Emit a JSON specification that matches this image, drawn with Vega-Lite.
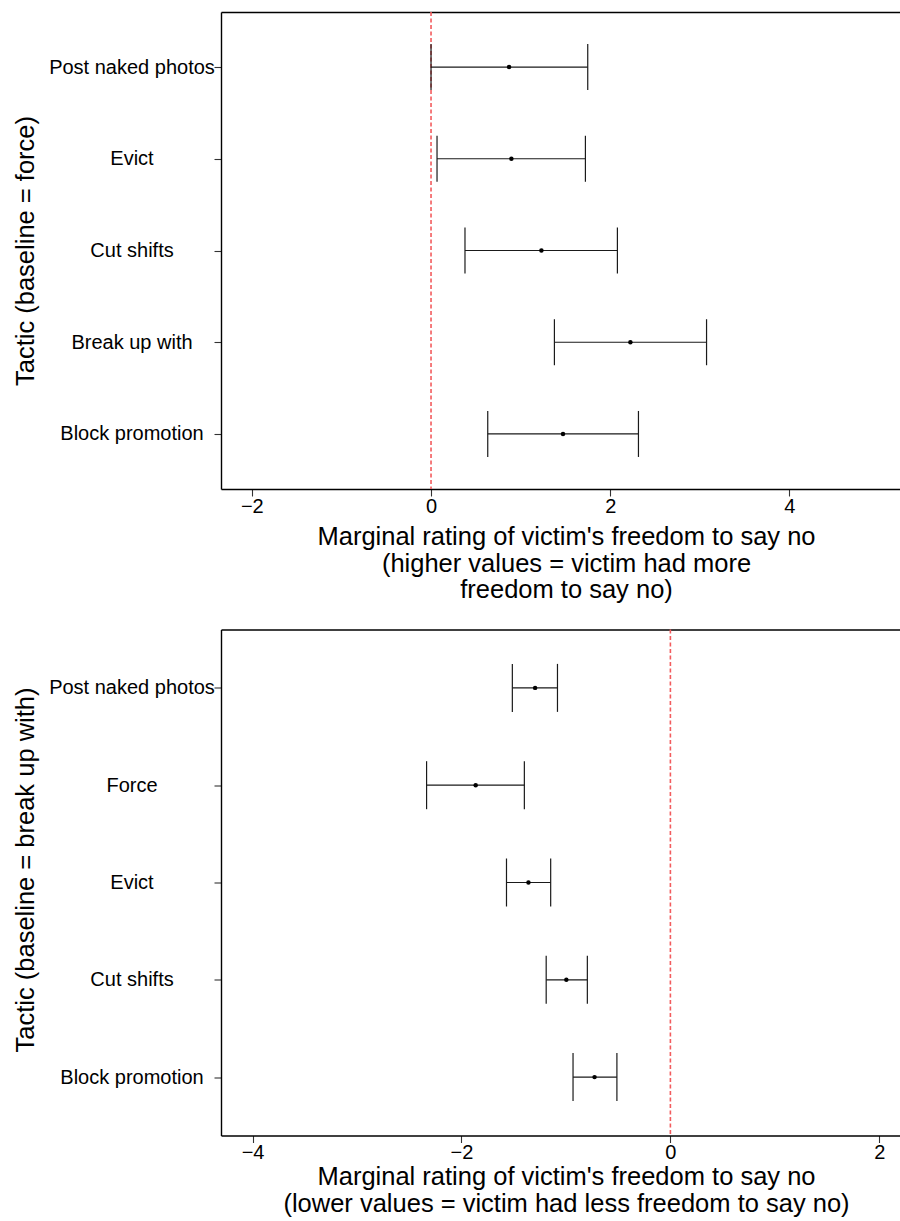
{
  "$schema": "https://vega.github.io/schema/vega-lite/v6.json",
  "padding": {"left": 13, "top": 11, "right": 0, "bottom": 0},
  "background": "white",
  "config": {
    "font": "Liberation Sans",
    "view": {"stroke": null},
    "concat": {"spacing": 24.5},
    "axis": {
      "grid": false,
      "domainColor": "#000000",
      "domainWidth": 1.4,
      "tickColor": "#333333",
      "tickWidth": 1.1,
      "tickSize": 7,
      "labelColor": "#000000",
      "labelFont": "Liberation Sans",
      "labelFontSize": 20,
      "titleFont": "Liberation Sans",
      "titleFontSize": 25.5,
      "titleFontWeight": "normal",
      "titleColor": "#000000"
    }
  },
  "datasets": {
    "force": [
      {"tactic": "Post naked photos", "lower": 0.0, "estimate": 0.871, "upper": 1.749},
      {"tactic": "Evict", "lower": 0.067, "estimate": 0.897, "upper": 1.723},
      {"tactic": "Cut shifts", "lower": 0.379, "estimate": 1.232, "upper": 2.08},
      {"tactic": "Break up with", "lower": 1.377, "estimate": 2.225, "upper": 3.075},
      {"tactic": "Block promotion", "lower": 0.633, "estimate": 1.473, "upper": 2.315}
    ],
    "breakup": [
      {"tactic": "Post naked photos", "lower": -1.513, "estimate": -1.295, "upper": -1.081},
      {"tactic": "Force", "lower": -2.334, "estimate": -1.864, "upper": -1.398},
      {"tactic": "Evict", "lower": -1.569, "estimate": -1.359, "upper": -1.146},
      {"tactic": "Cut shifts", "lower": -1.189, "estimate": -0.996, "upper": -0.795},
      {"tactic": "Block promotion", "lower": -0.932, "estimate": -0.726, "upper": -0.512}
    ],
    "zero": [{"ref": 0}]
  },
  "vconcat": [
    {
      "width": 679,
      "height": 477,
      "data": {"name": "force"},
      "resolve": {"axis": {"x": "independent"}},
      "layer": [
        {
          "data": {"name": "zero"},
          "mark": {"type": "rule", "color": "#f25c5e", "strokeDash": [4, 2.5], "strokeWidth": 1.6},
          "encoding": {
            "x": {"field": "ref", "type": "quantitative", "scale": {"domain": [-2.344, 5.234], "nice": false, "zero": false},
              "axis": {"values": [-2, 0, 2, 4], "labelPadding": 0, "titlePadding": 8.6, "titleLineHeight": 26.7, "titleX": 345,
                "title": ["Marginal rating of victim's freedom to say no", "(higher values = victim had more", "freedom to say no)"]}}
          }
        },
        {
          "mark": {"type": "rule", "color": "#1a1a1a", "strokeWidth": 1.2},
          "encoding": {
            "y": {"field": "tactic", "type": "nominal", "sort": ["Post naked photos", "Evict", "Cut shifts", "Break up with", "Block promotion"],
              "scale": {"type": "point", "padding": 0.6},
              "axis": {"title": "Tactic (baseline = force)", "labelAlign": "center", "labelBaseline": "middle", "labelPadding": 82.5, "titlePadding": 10}},
            "x": {"field": "lower", "type": "quantitative", "scale": {"domain": [-2.344, 5.234], "nice": false, "zero": false}, "axis": null},
            "x2": {"field": "upper"}
          }
        },
        {
          "mark": {"type": "tick", "orient": "vertical", "size": 46, "thickness": 1.2, "color": "#1a1a1a", "opacity": 1},
          "encoding": {
            "y": {"field": "tactic", "type": "nominal", "sort": ["Post naked photos", "Evict", "Cut shifts", "Break up with", "Block promotion"]},
            "x": {"field": "lower", "type": "quantitative", "scale": {"domain": [-2.344, 5.234], "nice": false, "zero": false}, "axis": null}
          }
        },
        {
          "mark": {"type": "tick", "orient": "vertical", "size": 46, "thickness": 1.2, "color": "#1a1a1a", "opacity": 1},
          "encoding": {
            "y": {"field": "tactic", "type": "nominal", "sort": ["Post naked photos", "Evict", "Cut shifts", "Break up with", "Block promotion"]},
            "x": {"field": "upper", "type": "quantitative", "scale": {"domain": [-2.344, 5.234], "nice": false, "zero": false}, "axis": null}
          }
        },
        {
          "mark": {"type": "circle", "size": 20, "color": "#000000", "opacity": 1},
          "encoding": {
            "y": {"field": "tactic", "type": "nominal", "sort": ["Post naked photos", "Evict", "Cut shifts", "Break up with", "Block promotion"]},
            "x": {"field": "estimate", "type": "quantitative", "scale": {"domain": [-2.344, 5.234], "nice": false, "zero": false},
              "axis": {"orient": "top", "labels": false, "ticks": false, "title": null, "domain": true}}
          }
        }
      ]
    },
    {
      "width": 679,
      "height": 506,
      "data": {"name": "breakup"},
      "resolve": {"axis": {"x": "independent"}},
      "layer": [
        {
          "data": {"name": "zero"},
          "mark": {"type": "rule", "color": "#f25c5e", "strokeDash": [4, 2.5], "strokeWidth": 1.6},
          "encoding": {
            "x": {"field": "ref", "type": "quantitative", "scale": {"domain": [-4.302, 2.198], "nice": false, "zero": false},
              "axis": {"values": [-4, -2, 0, 2], "labelPadding": 0, "titlePadding": 1.5, "titleLineHeight": 27, "titleX": 345,
                "title": ["Marginal rating of victim's freedom to say no", "(lower values = victim had less freedom to say no)"]}}
          }
        },
        {
          "mark": {"type": "rule", "color": "#1a1a1a", "strokeWidth": 1.2},
          "encoding": {
            "y": {"field": "tactic", "type": "nominal", "sort": ["Post naked photos", "Force", "Evict", "Cut shifts", "Block promotion"],
              "scale": {"type": "point", "padding": 0.6},
              "axis": {"title": "Tactic (baseline = break up with)", "labelAlign": "center", "labelBaseline": "middle", "labelPadding": 82.5, "titlePadding": 10, "titleY": 240}},
            "x": {"field": "lower", "type": "quantitative", "scale": {"domain": [-4.302, 2.198], "nice": false, "zero": false}, "axis": null},
            "x2": {"field": "upper"}
          }
        },
        {
          "mark": {"type": "tick", "orient": "vertical", "size": 48, "thickness": 1.2, "color": "#1a1a1a", "opacity": 1},
          "encoding": {
            "y": {"field": "tactic", "type": "nominal", "sort": ["Post naked photos", "Force", "Evict", "Cut shifts", "Block promotion"]},
            "x": {"field": "lower", "type": "quantitative", "scale": {"domain": [-4.302, 2.198], "nice": false, "zero": false}, "axis": null}
          }
        },
        {
          "mark": {"type": "tick", "orient": "vertical", "size": 48, "thickness": 1.2, "color": "#1a1a1a", "opacity": 1},
          "encoding": {
            "y": {"field": "tactic", "type": "nominal", "sort": ["Post naked photos", "Force", "Evict", "Cut shifts", "Block promotion"]},
            "x": {"field": "upper", "type": "quantitative", "scale": {"domain": [-4.302, 2.198], "nice": false, "zero": false}, "axis": null}
          }
        },
        {
          "mark": {"type": "circle", "size": 20, "color": "#000000", "opacity": 1},
          "encoding": {
            "y": {"field": "tactic", "type": "nominal", "sort": ["Post naked photos", "Force", "Evict", "Cut shifts", "Block promotion"]},
            "x": {"field": "estimate", "type": "quantitative", "scale": {"domain": [-4.302, 2.198], "nice": false, "zero": false},
              "axis": {"orient": "top", "labels": false, "ticks": false, "title": null, "domain": true}}
          }
        }
      ]
    }
  ]
}
